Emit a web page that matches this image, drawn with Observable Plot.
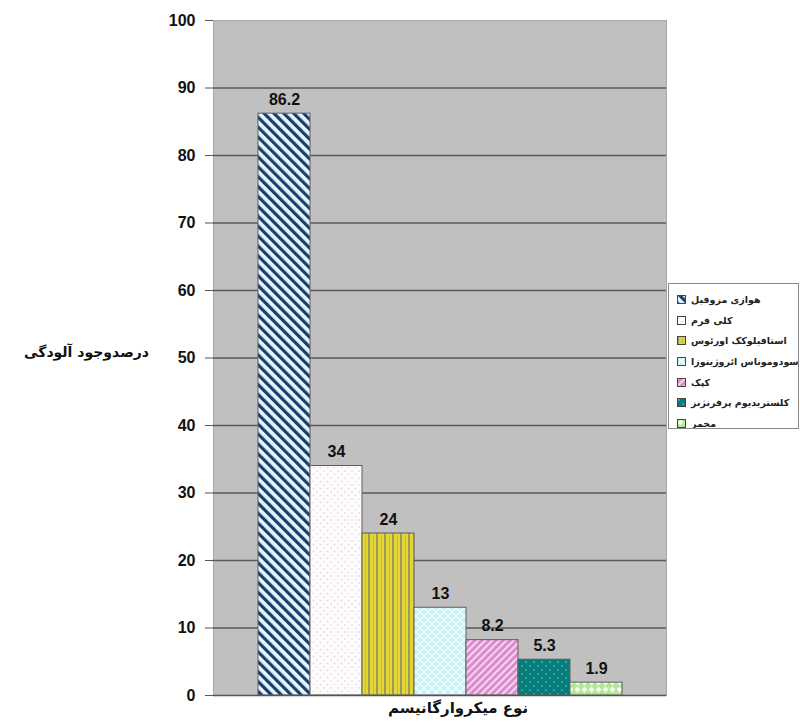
<!DOCTYPE html>
<html>
<head>
<meta charset="utf-8">
<script src="https://cdn.jsdelivr.net/npm/d3@7"></script>
<script src="https://cdn.jsdelivr.net/npm/@observablehq/plot@0.6"></script>
<style>
  html, body { margin: 0; padding: 0; background: #fff; }
  #wrap { position: relative; width: 800px; height: 728px; }
  #legend {
    position: absolute; left: 668px; top: 283px; width: 131px; height: 146px;
    background: #fff; border: 1px solid #8a8a8a; box-sizing: border-box; overflow: hidden;
    font-family: "DejaVu Sans", sans-serif; font-size: 9.5px; font-weight: bold; color: #222;
    padding-top: 5px;
  }
  .item { display: flex; align-items: center; height: 20.7px; white-space: nowrap; }
  .item svg { flex: none; margin-left: 8px; margin-right: 5px; }
  .item span { direction: rtl; unicode-bidi: isolate; }
</style>
</head>
<body>
<svg width="0" height="0" style="position:absolute">
  <defs>
    <pattern id="p1" width="7" height="7" patternUnits="userSpaceOnUse" patternTransform="rotate(-45)">
      <rect width="7" height="7" fill="#e4f6ff"/>
      <rect width="3.2" height="7" fill="#1d3d6b"/>
    </pattern>
    <pattern id="p2" width="7" height="7" patternUnits="userSpaceOnUse">
      <rect width="7" height="7" fill="#fdfbfb"/>
      <circle cx="2" cy="2" r="0.8" fill="#e6cdd6"/>
      <circle cx="5.5" cy="5.5" r="0.8" fill="#e6cdd6"/>
    </pattern>
    <pattern id="p3" width="8" height="8" patternUnits="userSpaceOnUse">
      <rect width="8" height="8" fill="#e3d633"/>
      <rect x="0" width="2" height="8" fill="#9c9a62"/>
      <rect x="5" width="1" height="8" fill="#c7bd55"/>
    </pattern>
    <pattern id="p4" width="8" height="8" patternUnits="userSpaceOnUse">
      <rect width="8" height="8" fill="#c6f1f6"/>
      <path d="M0,0 L8,8 M0,8 L8,0" stroke="#f4fdff" stroke-width="1.3"/>
    </pattern>
    <pattern id="p5" width="5" height="5" patternUnits="userSpaceOnUse" patternTransform="rotate(45)">
      <rect width="5" height="5" fill="#dc8ccc"/>
      <rect width="2" height="5" fill="#f6d6ef"/>
    </pattern>
    <pattern id="p6" width="8" height="8" patternUnits="userSpaceOnUse">
      <rect width="8" height="8" fill="#057d7b"/>
      <circle cx="2" cy="2" r="1.1" fill="#44aba8"/>
      <circle cx="6" cy="6" r="1.1" fill="#44aba8"/>
    </pattern>
    <pattern id="p7" width="7" height="7" patternUnits="userSpaceOnUse">
      <rect width="7" height="7" fill="#b4e69a"/>
      <path d="M3.5,0.6 L6.4,3.5 L3.5,6.4 L0.6,3.5 Z" fill="#f4fff0"/>
    </pattern>
  </defs>
</svg>
<div id="wrap">
  <div id="chart"></div>
  <div id="legend"></div>
</div>
<script>
const organisms = [
  "هوازی مزوفیل",
  "کلی فرم",
  "استافیلوکک اورئوس",
  "سودوموناس ائروژینوزا",
  "کپک",
  "کلستریدیوم پرفرنژنز",
  "مخمر"
];
const percents = [86.2, 34, 24, 13, 8.2, 5.3, 1.9];
const percentLabels = ["86.2", "34", "24", "13", "8.2", "5.3", "1.9"];
const yTicks = [0, 10, 20, 30, 40, 50, 60, 70, 80, 90, 100];
const yLabel = "درصدوجود آلودگی";
const xLabel = "نوع میکروارگانیسم";

const patterns = ["url(#p1)", "url(#p2)", "url(#p3)", "url(#p4)", "url(#p5)", "url(#p6)", "url(#p7)"];

const data = organisms.map((name, i) => ({name, value: percents[i], label: percentLabels[i]}));

const chart = Plot.plot({
  width: 800,
  height: 728,
  marginLeft: 213,
  marginRight: 134,
  marginTop: 20,
  marginBottom: 33,
  style: {fontFamily: "Liberation Sans, Arial, sans-serif", fontSize: "16px", fontWeight: "bold", color: "#111", background: "transparent"},
  x: {domain: organisms, paddingInner: 0, paddingOuter: 0.85, axis: null},
  y: {domain: [0, 100]},
  color: {domain: organisms, range: patterns, type: "ordinal"},
  marks: [
    Plot.frame({fill: "#c0c0c0", stroke: "#a8a8a8"}),
    Plot.ruleY(yTicks.filter(t => t > 0 && t < 100), {stroke: "#5a5a5a", strokeWidth: 1.5}),
    Plot.barY(data, {x: "name", y: "value", fill: "name", stroke: "#5e5e5e", strokeWidth: 1}),
    Plot.ruleY([0], {stroke: "#555", strokeWidth: 1.5}),
    Plot.axisY({ticks: yTicks, tickSize: 8, tickPadding: 10, label: null, fontSize: 16, fontWeight: "bold", stroke: "#555", tickFormat: d => String(d)}),
    Plot.text(data, {x: "name", y: "value", text: "label", lineAnchor: "bottom", dy: -9, fontSize: 16, fontWeight: "bold", fill: "#111"}),
    Plot.text([yLabel], {frameAnchor: "left", textAnchor: "middle", dx: -127, dy: -5, fontSize: 14, fontWeight: "bold", fontFamily: "DejaVu Sans, sans-serif", fill: "#111"}),
    Plot.text([xLabel], {frameAnchor: "bottom", textAnchor: "middle", dx: 18, dy: 17, fontSize: 15, fontWeight: "bold", fontFamily: "DejaVu Sans, sans-serif", fill: "#111"})
  ]
});
document.getElementById("chart").appendChild(chart);

const legend = document.getElementById("legend");
organisms.forEach((name, i) => {
  const item = document.createElement("div");
  item.className = "item";
  item.innerHTML = `<svg width="9" height="9"><rect x="0.5" y="0.5" width="8" height="8" fill="${patterns[i]}" stroke="#444" stroke-width="1"/></svg><span></span>`;
  item.querySelector("span").textContent = name;
  legend.appendChild(item);
});
</script>
</body>
</html>
